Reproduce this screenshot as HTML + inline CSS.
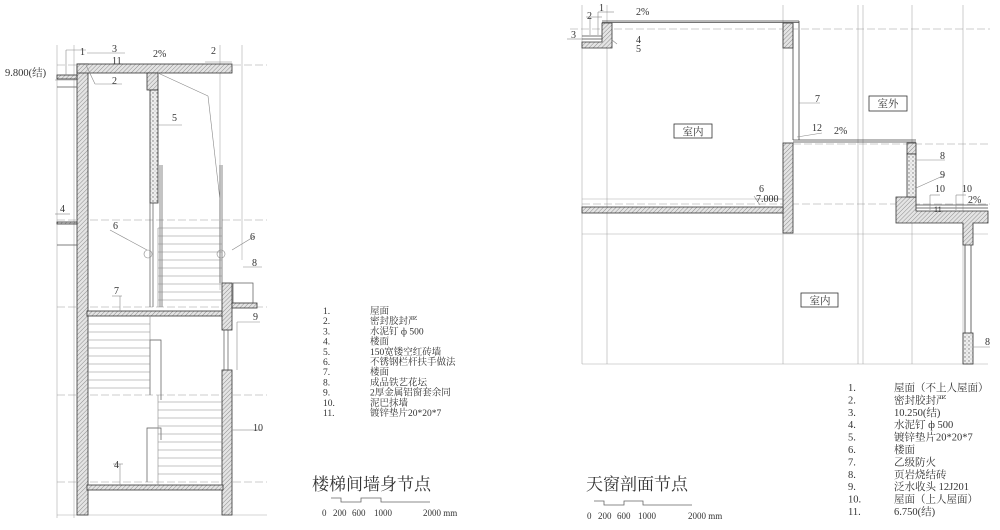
<!DOCTYPE html>
<html><head><meta charset="utf-8"><style>
html,body{margin:0;padding:0;background:#fff;}
svg{display:block;}
text{font-family:"Liberation Serif","Noto Serif CJK SC",serif;fill:#333;}
.t{font-size:10px;}
.l{font-size:9.5px;}
.c{font-size:10.5px;}
</style></head><body>
<svg width="1000" height="530" viewBox="0 0 1000 530" xmlns="http://www.w3.org/2000/svg">
<defs>
<pattern id="h" width="3" height="3" patternUnits="userSpaceOnUse" patternTransform="rotate(45)">
<rect width="3" height="3" fill="#e4e4e4"/><line x1="0" y1="0" x2="0" y2="3" stroke="#777" stroke-width="0.8"/></pattern>
<pattern id="d" width="4" height="4" patternUnits="userSpaceOnUse">
<rect width="4" height="4" fill="#eee"/><circle cx="1" cy="1" r="0.7" fill="#777"/><circle cx="3" cy="3" r="0.5" fill="#999"/></pattern>
</defs>

<!-- LEFT DRAWING -->
<g stroke="#aaa" stroke-width="0.6" fill="none">
<line x1="57" y1="45" x2="57" y2="518"/>
<line x1="74" y1="45" x2="74" y2="518"/>
<line x1="242" y1="45" x2="242" y2="260"/>
<line x1="220" y1="45" x2="220" y2="290"/>
<line x1="57" y1="515" x2="267" y2="515"/>
</g>
<g stroke="#999" stroke-width="0.6" stroke-dasharray="8,3" fill="none">
<line x1="57" y1="65" x2="267" y2="65"/>
<line x1="57" y1="220" x2="267" y2="220"/>
<line x1="57" y1="307" x2="267" y2="307"/>
<line x1="57" y1="395" x2="267" y2="395"/>
<line x1="57" y1="482" x2="267" y2="482"/>
</g>
<g stroke="#333" stroke-width="0.8" fill="url(#h)">
<rect x="77" y="64" width="11" height="451"/>
<rect x="77" y="64" width="155" height="9"/>
<path d="M147 73 H158 V90 H147 Z"/>
<rect x="150" y="90" width="8" height="113" fill="url(#d)"/>
<rect x="87" y="311" width="136" height="5"/>
<rect x="222" y="283" width="10" height="47"/>
<rect x="232" y="303" width="25" height="5"/>
<rect x="222" y="370" width="10" height="145"/>
<rect x="87" y="485" width="136" height="5"/>
<rect x="57" y="75" width="20" height="4"/>
<rect x="57" y="222" width="20" height="2"/>
</g>
<g stroke="#555" stroke-width="0.7" fill="none">
<line x1="57" y1="87" x2="77" y2="87"/>
<line x1="57" y1="245" x2="77" y2="245"/>
<rect x="233" y="283" width="20" height="20"/>
<line x1="224" y1="330" x2="224" y2="370"/><line x1="228" y1="330" x2="228" y2="370"/>
<line x1="150" y1="203" x2="150" y2="307"/><line x1="153" y1="203" x2="153" y2="307"/>
<line x1="160" y1="165" x2="160" y2="307"/><line x1="162" y1="165" x2="162" y2="307"/>
<line x1="220" y1="165" x2="220" y2="283"/><line x1="222" y1="165" x2="222" y2="283"/>
<path d="M150 395 V340 H161 V400"/>
<path d="M147 482 V428 H161 V440"/>
</g>
<g stroke="#888" stroke-width="0.6">
<line x1="158" y1="228" x2="222" y2="228"/><line x1="158" y1="236" x2="222" y2="236"/>
<line x1="158" y1="244" x2="222" y2="244"/><line x1="158" y1="252" x2="222" y2="252"/>
<line x1="158" y1="260" x2="222" y2="260"/><line x1="158" y1="268" x2="222" y2="268"/>
<line x1="158" y1="276" x2="222" y2="276"/><line x1="158" y1="284" x2="222" y2="284"/>
<line x1="158" y1="292" x2="222" y2="292"/><line x1="158" y1="300" x2="222" y2="300"/>
<line x1="158" y1="228" x2="158" y2="307"/>
<line x1="87" y1="324" x2="150" y2="324"/><line x1="87" y1="332" x2="150" y2="332"/>
<line x1="87" y1="340" x2="150" y2="340"/><line x1="87" y1="348" x2="150" y2="348"/>
<line x1="87" y1="356" x2="150" y2="356"/><line x1="87" y1="364" x2="150" y2="364"/>
<line x1="87" y1="372" x2="150" y2="372"/><line x1="87" y1="380" x2="150" y2="380"/>
<line x1="87" y1="388" x2="150" y2="388"/><line x1="150" y1="316" x2="150" y2="395"/>
<line x1="158" y1="402" x2="222" y2="402"/><line x1="158" y1="410" x2="222" y2="410"/>
<line x1="158" y1="418" x2="222" y2="418"/><line x1="158" y1="426" x2="222" y2="426"/>
<line x1="158" y1="434" x2="222" y2="434"/><line x1="158" y1="442" x2="222" y2="442"/>
<line x1="158" y1="450" x2="222" y2="450"/><line x1="158" y1="458" x2="222" y2="458"/>
<line x1="158" y1="466" x2="222" y2="466"/><line x1="158" y1="474" x2="222" y2="474"/>
<line x1="158" y1="395" x2="158" y2="485"/>
<line x1="158" y1="73" x2="208" y2="96"/><line x1="208" y1="96" x2="220" y2="200"/>
<line x1="55" y1="80" x2="77" y2="80"/><line x1="66" y1="50" x2="66" y2="75"/><line x1="66" y1="50" x2="86" y2="50"/>
<line x1="86" y1="65" x2="95" y2="84"/><line x1="95" y1="84" x2="122" y2="84"/>
<line x1="87" y1="53" x2="125" y2="53"/>
<line x1="158" y1="125" x2="182" y2="125"/>
<line x1="110" y1="230" x2="147" y2="250"/><line x1="232" y1="250" x2="255" y2="236"/>
<line x1="112" y1="296" x2="122" y2="296"/><line x1="120" y1="296" x2="120" y2="311"/>
<line x1="243" y1="267" x2="262" y2="267"/>
<line x1="237" y1="322" x2="260" y2="322"/><line x1="237" y1="322" x2="237" y2="370"/>
<line x1="232" y1="430" x2="248" y2="430"/><line x1="248" y1="430" x2="262" y2="430"/>
<line x1="113" y1="464" x2="123" y2="464"/><line x1="120" y1="464" x2="120" y2="485"/>
<line x1="55" y1="214" x2="70" y2="214"/>
<line x1="205" y1="62" x2="232" y2="62"/>
</g>
<circle cx="148" cy="254" r="4" fill="none" stroke="#888" stroke-width="0.6"/>
<circle cx="221" cy="254" r="4" fill="none" stroke="#888" stroke-width="0.6"/>
<g class="t">
<text x="80" y="55">1</text><text x="112" y="52">3</text><text x="112" y="64">11</text>
<text x="153" y="57">2%</text><text x="211" y="54">2</text>
<text x="5" y="76" font-size="10.5">9.800(结)</text><text x="112" y="84">2</text>
<text x="172" y="121">5</text><text x="60" y="212">4</text>
<text x="113" y="229">6</text><text x="250" y="240">6</text>
<text x="252" y="266">8</text><text x="114" y="294">7</text>
<text x="253" y="320">9</text><text x="253" y="431">10</text>
<text x="114" y="468">4</text>
</g>

<!-- LEFT LEGEND -->
<g class="l">
<text x="323" y="314">1.</text><text x="370" y="314">屋面</text>
<text x="323" y="324.2">2.</text><text x="370" y="324.2">密封胶封严</text>
<text x="323" y="334.4">3.</text><text x="370" y="334.4">水泥钉 ф 500</text>
<text x="323" y="344.6">4.</text><text x="370" y="344.6">楼面</text>
<text x="323" y="354.8">5.</text><text x="370" y="354.8">150宽镂空红砖墙</text>
<text x="323" y="365">6.</text><text x="370" y="365">不锈钢栏杆扶手做法</text>
<text x="323" y="375.2">7.</text><text x="370" y="375.2">楼面</text>
<text x="323" y="385.4">8.</text><text x="370" y="385.4">成品铁艺花坛</text>
<text x="323" y="395.6">9.</text><text x="370" y="395.6">2厚金属铝窗套余同</text>
<text x="323" y="405.8">10.</text><text x="370" y="405.8">泥巴抹墙</text>
<text x="323" y="416">11.</text><text x="370" y="416">镀锌垫片20*20*7</text>
</g>
<text x="312" y="490" font-size="17">楼梯间墙身节点</text>
<path d="M331 498 H341 V502 H361 V498 H381 V502 H430" fill="none" stroke="#666" stroke-width="0.8"/>
<g font-size="9">
<text x="322" y="516">0</text><text x="333" y="516">200</text><text x="352" y="516">600</text><text x="374" y="516">1000</text><text x="423" y="516">2000 mm</text>
</g>

<!-- RIGHT DRAWING -->
<g stroke="#aaa" stroke-width="0.6" fill="none">
<line x1="582" y1="5" x2="582" y2="364"/><line x1="607" y1="5" x2="607" y2="364"/>
<line x1="783" y1="5" x2="783" y2="364"/><line x1="858" y1="5" x2="858" y2="364"/>
<line x1="863" y1="5" x2="863" y2="364"/>
<line x1="912" y1="5" x2="912" y2="364"/><line x1="963" y1="5" x2="963" y2="364"/>
<line x1="582" y1="364" x2="988" y2="364"/>
<line x1="582" y1="234" x2="988" y2="234"/>
<line x1="582" y1="199" x2="783" y2="199"/>
</g>
<g stroke="#999" stroke-width="0.6" stroke-dasharray="8,3" fill="none">
<line x1="570" y1="29" x2="990" y2="29"/>
<line x1="793" y1="144" x2="990" y2="144"/>
<line x1="582" y1="204" x2="990" y2="204"/>
</g>
<g stroke="#333" stroke-width="0.8" fill="url(#h)">
<path d="M602 23 H612 V48 H582 V42 H602 Z"/>
<rect x="783" y="23" width="10" height="25"/>
<rect x="783" y="143" width="10" height="90"/>
<rect x="582" y="207" width="201" height="6"/>
<path d="M896 197 H916 V211 H988 V223 H973 V245 H963 V223 H896 Z"/>
<rect x="907" y="143" width="9" height="11"/>
<rect x="907" y="154" width="9" height="43" fill="url(#d)"/>
<rect x="963" y="333" width="10" height="31" fill="url(#d)"/>
</g>
<g stroke="#444" stroke-width="0.8" fill="none">
<line x1="602" y1="21" x2="799" y2="21"/><line x1="602" y1="22.5" x2="799" y2="22.5"/>
<line x1="793" y1="23" x2="793" y2="140"/><line x1="799" y1="21" x2="799" y2="140"/>
<line x1="793" y1="140" x2="916" y2="140"/><line x1="793" y1="142" x2="916" y2="142"/>
<line x1="916" y1="205" x2="988" y2="205"/><line x1="916" y1="208" x2="988" y2="208"/>
<line x1="965" y1="245" x2="965" y2="333"/><line x1="971" y1="245" x2="971" y2="333"/>
<line x1="582" y1="36" x2="602" y2="36"/><line x1="582" y1="39" x2="602" y2="39"/>
</g>
<g stroke="#888" stroke-width="0.6">
<line x1="598" y1="12" x2="614" y2="12"/><line x1="598" y1="12" x2="598" y2="35"/>
<line x1="586" y1="17" x2="602" y2="17"/><line x1="590" y1="17" x2="590" y2="35"/>
<line x1="567" y1="39" x2="582" y2="39"/>
<line x1="612" y1="40" x2="617" y2="44"/>
<line x1="799" y1="103" x2="820" y2="103"/>
<line x1="797" y1="137" x2="822" y2="133"/>
<line x1="755" y1="199" x2="783" y2="199"/><line x1="754" y1="196" x2="760" y2="205"/>
<line x1="916" y1="160" x2="945" y2="160"/>
<line x1="916" y1="188" x2="945" y2="175"/>
<line x1="930" y1="195" x2="940" y2="195"/><line x1="930" y1="195" x2="930" y2="210"/>
<line x1="956" y1="195" x2="966" y2="195"/><line x1="956" y1="195" x2="956" y2="210"/>
<line x1="973" y1="347" x2="990" y2="347"/>
</g>
<g class="t">
<text x="599" y="11">1</text><text x="587" y="19">2</text><text x="571" y="38">3</text>
<text x="636" y="15">2%</text><text x="636" y="43">4</text><text x="636" y="52">5</text>
<text x="815" y="102">7</text><text x="812" y="131">12</text><text x="834" y="134">2%</text>
<text x="759" y="192">6</text><text x="756" y="202">7.000</text>
<text x="940" y="159">8</text><text x="940" y="178">9</text>
<text x="935" y="192">10</text><text x="962" y="192">10</text><text x="968" y="203">2%</text>
<text x="934" y="212" font-size="8">11</text>
<text x="985" y="345">8</text>
</g>
<g stroke="#333" stroke-width="0.8" fill="#fff">
<rect x="674" y="124" width="38" height="14"/>
<rect x="869" y="96" width="38" height="15"/>
<rect x="801" y="293" width="37" height="14"/>
</g>
<g font-size="10.5">
<text x="693" y="135" text-anchor="middle">室内</text>
<text x="888" y="107" text-anchor="middle">室外</text>
<text x="820" y="304" text-anchor="middle">室内</text>
</g>

<!-- RIGHT LEGEND -->
<g class="c">
<text x="848" y="391">1.</text><text x="894" y="391">屋面（不上人屋面）</text>
<text x="848" y="403.4">2.</text><text x="894" y="403.4">密封胶封严</text>
<text x="848" y="415.8">3.</text><text x="894" y="415.8">10.250(结)</text>
<text x="848" y="428.2">4.</text><text x="894" y="428.2">水泥钉 ф 500</text>
<text x="848" y="440.6">5.</text><text x="894" y="440.6">镀锌垫片20*20*7</text>
<text x="848" y="453">6.</text><text x="894" y="453">楼面</text>
<text x="848" y="465.4">7.</text><text x="894" y="465.4">乙级防火</text>
<text x="848" y="477.8">8.</text><text x="894" y="477.8">页岩烧结砖</text>
<text x="848" y="490.2">9.</text><text x="894" y="490.2">泛水收头 12J201</text>
<text x="848" y="502.6">10.</text><text x="894" y="502.6">屋面（上人屋面）</text>
<text x="848" y="515">11.</text><text x="894" y="515">6.750(结)</text>
</g>
<text x="586" y="490" font-size="17">天窗剖面节点</text>
<path d="M594 501 H604 V505 H624 V501 H643 V505 H692" fill="none" stroke="#666" stroke-width="0.8"/>
<g font-size="9">
<text x="587" y="519">0</text><text x="598" y="519">200</text><text x="617" y="519">600</text><text x="638" y="519">1000</text><text x="688" y="519">2000 mm</text>
</g>
</svg>
</body></html>
